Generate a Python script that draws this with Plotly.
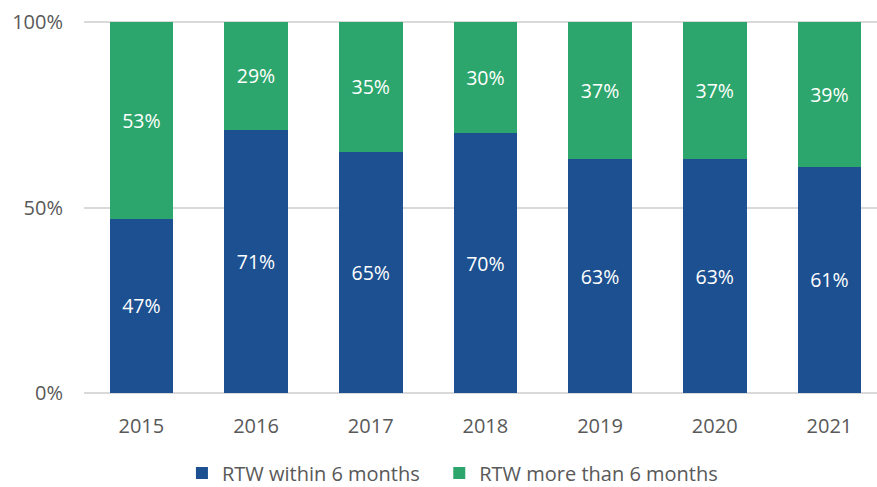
import plotly.graph_objects as go

years = ["2015", "2016", "2017", "2018", "2019", "2020", "2021"]
within_6 = [47, 71, 65, 70, 63, 63, 61]
more_than_6 = [53, 29, 35, 30, 37, 37, 39]
y_ticks = [0, 50, 100]
y_tick_labels = ["0%", "50%", "100%"]

BLUE = "#1C5090"
GREEN = "#2CA66C"
FONT = "Open Sans, Noto Sans, sans-serif"

fig = go.Figure()
fig.add_trace(go.Bar(
    x=years, y=within_6, name="RTW within 6 months",
    marker=dict(color=BLUE, line=dict(width=0)),
    text=[f"{v}%" for v in within_6], textposition="inside",
    insidetextanchor="middle",
    textfont=dict(color="white", size=19.5, family=FONT),
    width=0.555, legend="legend",
))
fig.add_trace(go.Bar(
    x=years, y=more_than_6, name="RTW more than 6 months",
    marker=dict(color=GREEN, line=dict(width=0)),
    text=[f"{v}%" for v in more_than_6], textposition="inside",
    insidetextanchor="middle",
    textfont=dict(color="white", size=19.5, family=FONT),
    width=0.555, legend="legend2",
))

legend_common = dict(
    orientation="h", xanchor="left", y=-0.212, yanchor="middle",
    font=dict(size=20, color="#595959", family=FONT),
    itemwidth=30, bgcolor="rgba(0,0,0,0)",
)

fig.update_layout(
    barmode="stack",
    width=877, height=487,
    margin=dict(l=84, r=0, t=21, b=93, pad=0, autoexpand=False),
    paper_bgcolor="white", plot_bgcolor="white",
    font=dict(family=FONT, color="#595959", size=20),
    showlegend=True,
    legend=dict(x=0.1235, **legend_common),
    legend2=dict(x=0.448, **legend_common),
    xaxis=dict(
        type="category", range=[-0.5, 6.415], showgrid=False, zeroline=False,
        showline=False, ticks="", ticklabelstandoff=18, automargin=False,
        tickfont=dict(size=20, color="#595959", family=FONT),
    ),
    yaxis=dict(
        range=[-0.3, 100.3], tickvals=y_ticks, ticktext=y_tick_labels,
        showgrid=True, gridcolor="#D9D9D9", gridwidth=2, zeroline=False,
        showline=False, ticks="", ticklabelstandoff=20, automargin=False,
        tickfont=dict(size=20, color="#595959", family=FONT),
    ),
)

fig.write_html(
    "out.html",
    config={"displayModeBar": False},
    post_script="document.body.style.margin='0';document.body.style.overflow='hidden';",
)
